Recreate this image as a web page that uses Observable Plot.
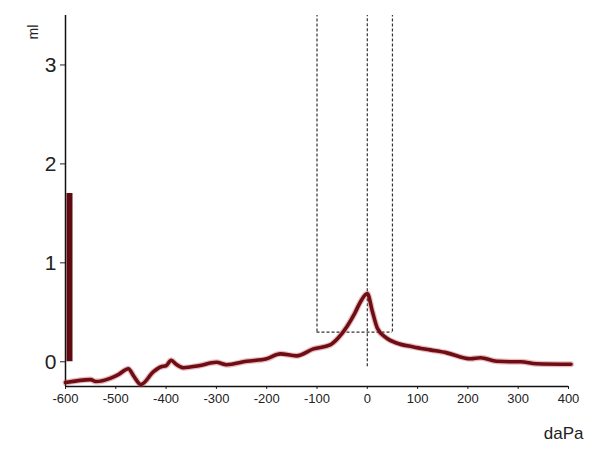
<!DOCTYPE html>
<html>
<head>
<meta charset="utf-8">
<script src="https://cdn.jsdelivr.net/npm/d3@7"></script>
<script src="https://cdn.jsdelivr.net/npm/@observablehq/plot@0.6"></script>
<style>
  html, body { margin: 0; padding: 0; background: #fff; }
  #chart { width: 590px; height: 455px; }
</style>
</head>
<body>
<div id="chart"></div>
<script>
// Tympanogram curve (pressure in daPa, admittance in ml)
const pressure = [-600, -550, -540, -510, -495, -475, -465, -450, -425, -410, -400, -390, -380, -365, -335, -300, -280, -240, -200, -173, -141, -107, -74, -58, -40, -25, -12, 0, 10, 20, 38, 58, 92, 125, 158, 205, 225, 257, 285, 305, 336, 405];
const volume   = [-0.21, -0.18, -0.20, -0.165, -0.13, -0.07, -0.14, -0.23, -0.10, -0.05, -0.04, 0.015, -0.025, -0.06, -0.04, -0.005, -0.03, 0.005, 0.03, 0.08, 0.06, 0.13, 0.17, 0.24, 0.36, 0.49, 0.62, 0.69, 0.51, 0.34, 0.24, 0.19, 0.15, 0.12, 0.09, 0.03, 0.04, 0.005, 0.0, 0.0, -0.02, -0.025];

// Ear canal volume bar at -600 daPa
const barX = [-600];
const barBottom = [0];
const barTop = [1.7];

// Dashed normal region box
const boxX = [-100, 50];
const boxBottom = 0.3;
const boxTop = 3.5;
const centerX = [0];
const centerBottom = -0.05;

// Axes
const xDomain = [-600, 400];
const yDomain = [-0.25, 3.5];
const xTicks = [-600, -500, -400, -300, -200, -100, 0, 100, 200, 300, 400];
const yTicks = [0, 1, 2, 3];
const yLabel = "ml";
const xLabel = "daPa";

const curve = pressure.map((p, i) => ({p, v: volume[i]}));
const bar = barX.map((x, i) => ({x, y1: barBottom[i], y2: barTop[i]}));

const chart = Plot.plot({
  width: 590,
  height: 455,
  marginLeft: 65,
  marginRight: 22,
  marginTop: 15,
  marginBottom: 69,
  style: {background: "#fff", fontFamily: "Liberation Sans, Arial, sans-serif", color: "#222"},
  x: {domain: xDomain},
  y: {domain: yDomain},
  marks: [
    Plot.axisX({ticks: xTicks, tickSize: 3, tickPadding: 4, fontSize: 13, label: null, tickFormat: d => String(d), stroke: "#222"}),
    Plot.axisY({ticks: yTicks, tickSize: 5, tickPadding: 4, fontSize: 21, label: null, tickFormat: d => String(d), stroke: "#222"}),
    Plot.ruleX([xDomain[0]], {stroke: "#111", strokeWidth: 1.5}),
    Plot.ruleY([yDomain[0]], {stroke: "#111", strokeWidth: 1.5}),
    // dashed box
    Plot.ruleX(boxX, {y1: boxBottom, y2: boxTop, stroke: "#333", strokeWidth: 1.2, strokeDasharray: "3,2"}),
    Plot.ruleY([boxBottom], {x1: boxX[0], x2: boxX[1], stroke: "#333", strokeWidth: 1.2, strokeDasharray: "3,2"}),
    Plot.ruleX(centerX, {y1: centerBottom, y2: boxTop, stroke: "#333", strokeWidth: 1.2, strokeDasharray: "3,2"}),
    // curve halo + line
    Plot.line(curve, {x: "p", y: "v", stroke: "#c0404a", strokeOpacity: 0.35, strokeWidth: 6, curve: "monotone-x"}),
    Plot.line(curve, {x: "p", y: "v", stroke: "#6e0e14", strokeWidth: 3.6, curve: "monotone-x"}),
    // volume bar
    Plot.ruleX(bar, {x: "x", y1: "y1", y2: "y2", stroke: "#5e0a10", strokeWidth: 6, dx: 4}),
    // labels
    Plot.text([yLabel], {frameAnchor: "top-left", dx: -37, dy: 24, rotate: -90, fontSize: 14, fill: "#222"}),
    Plot.text([xLabel], {frameAnchor: "bottom-right", dx: 15, dy: 52, textAnchor: "end", fontSize: 17, fill: "#222"})
  ]
});
document.getElementById("chart").appendChild(chart);
</script>
</body>
</html>
